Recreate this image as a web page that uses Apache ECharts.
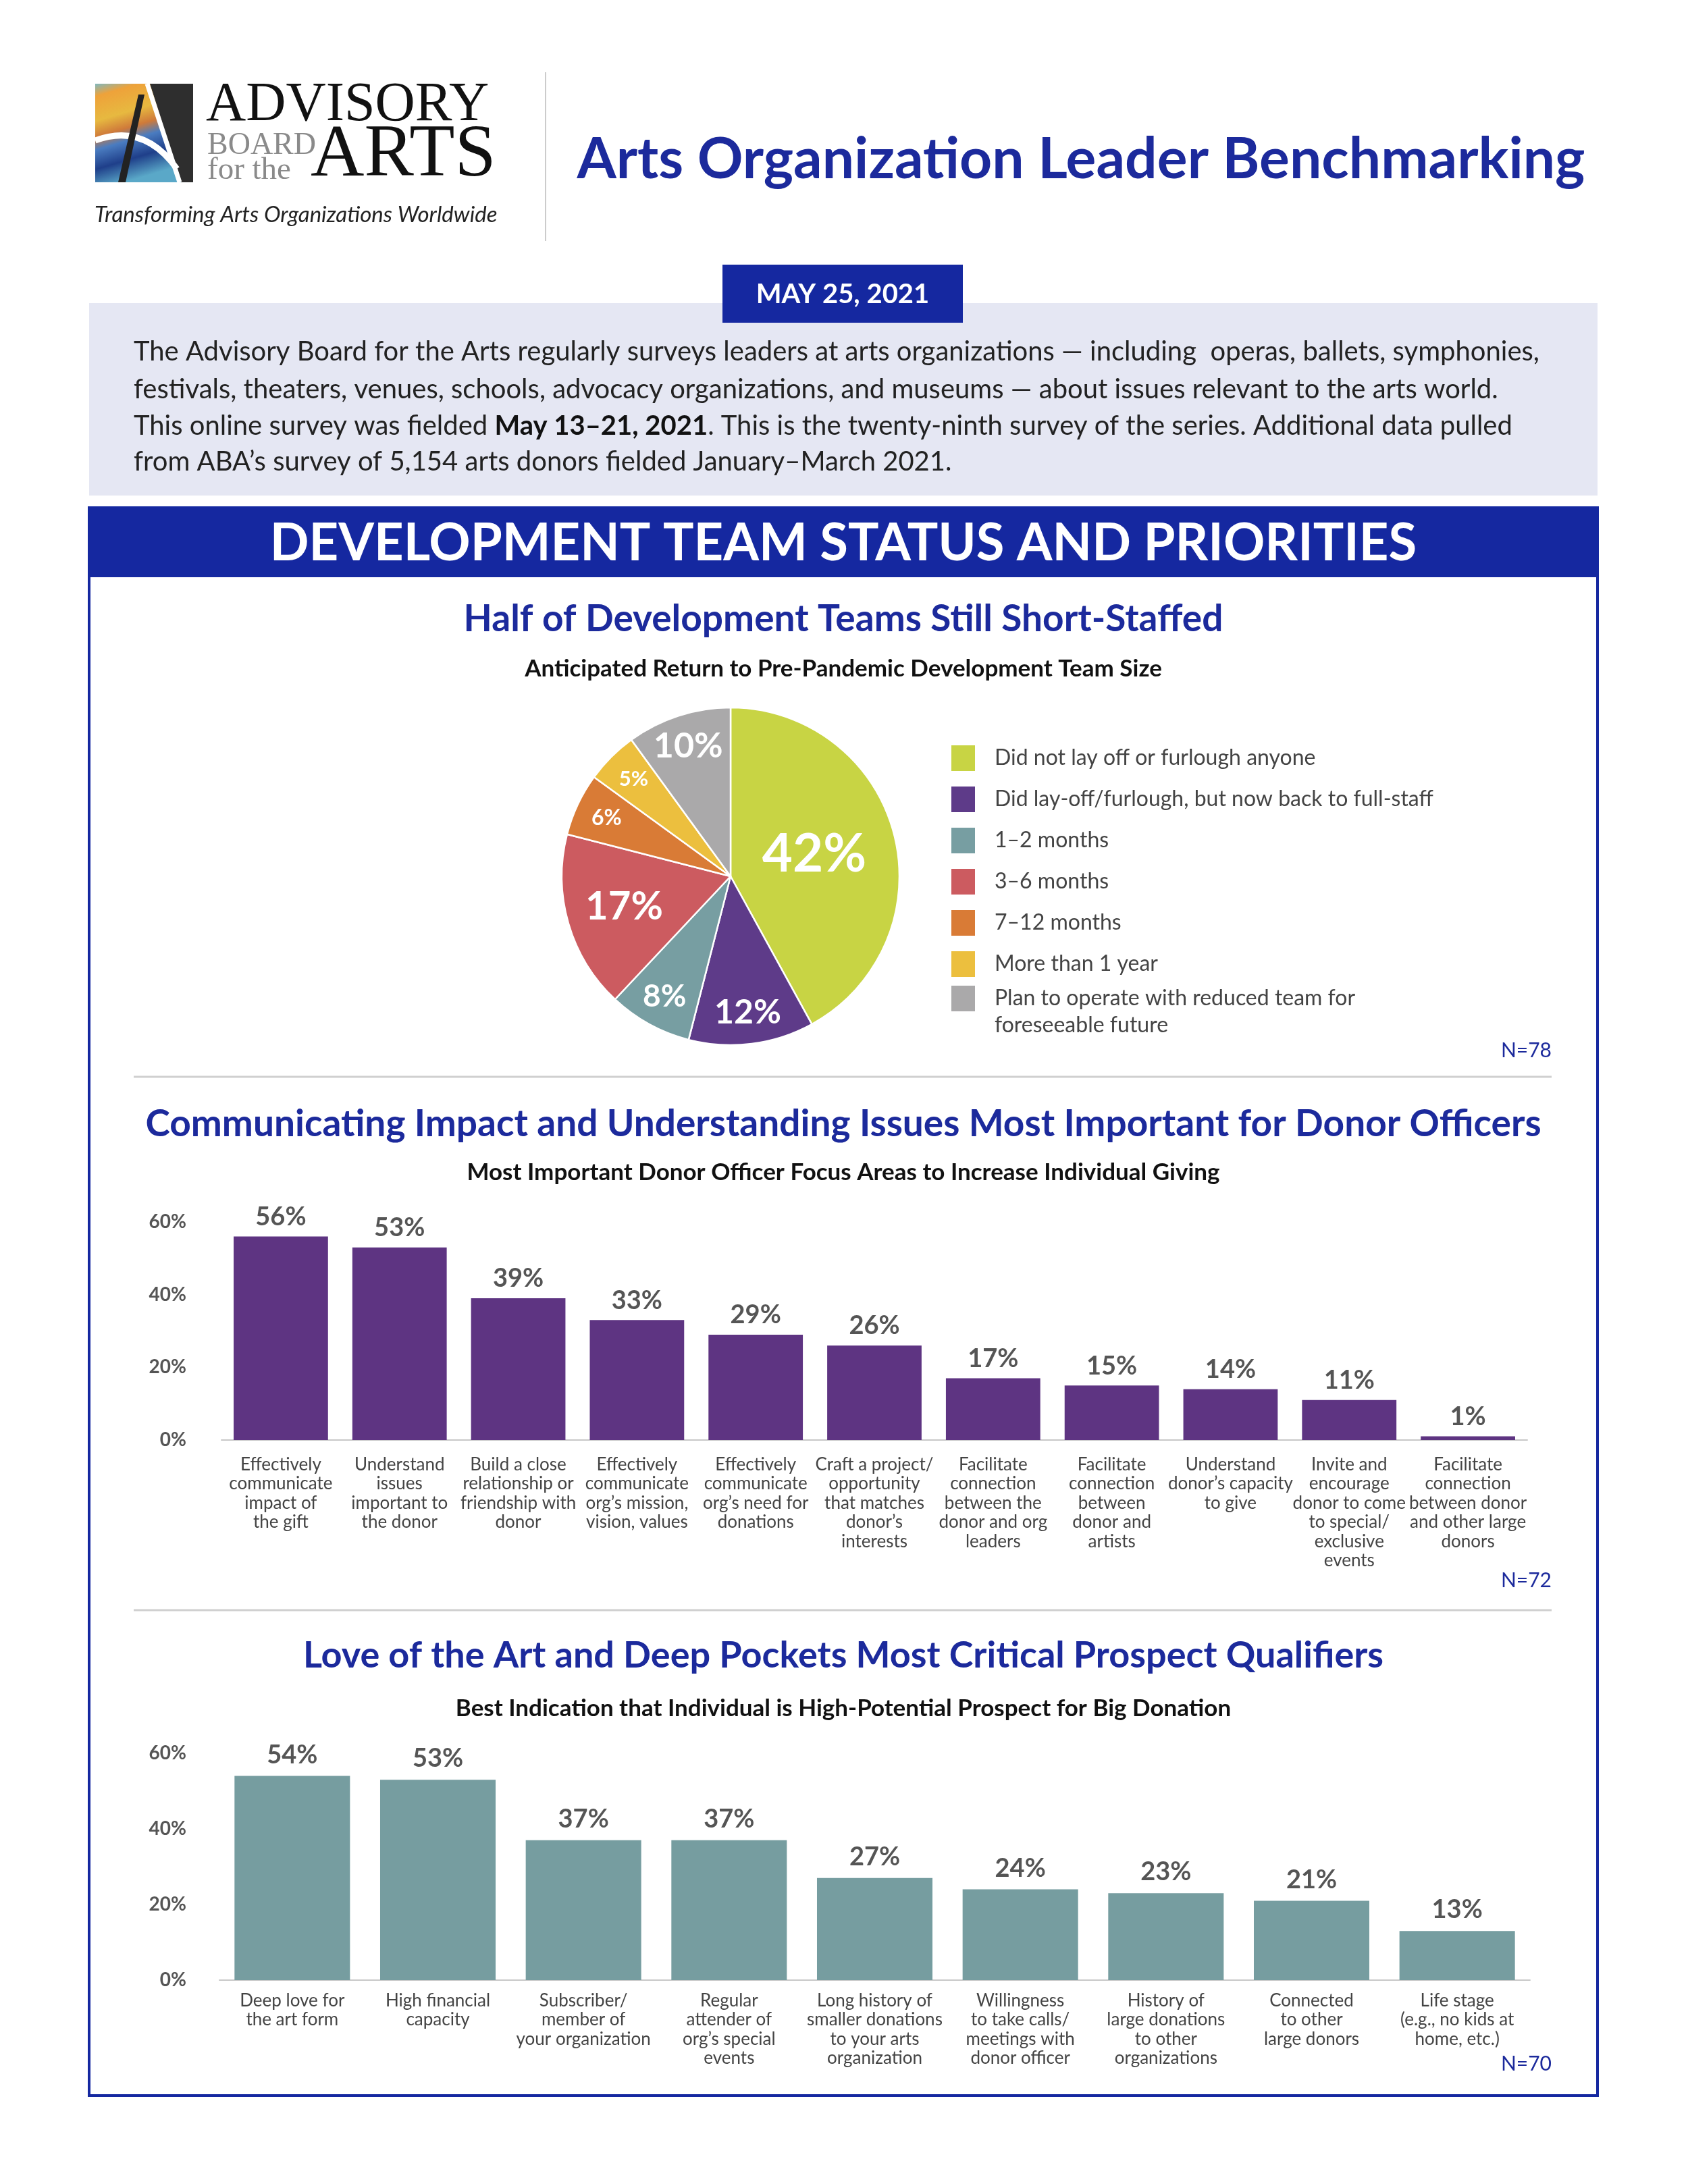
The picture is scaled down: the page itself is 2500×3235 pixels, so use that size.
<!DOCTYPE html>
<html><head><meta charset="utf-8">
<script src="https://cdn.jsdelivr.net/npm/echarts@6/dist/echarts.min.js"></script>
<style>html,body{margin:0;padding:0;background:#fff}#c{width:2500px;height:3235px}</style>
</head><body><div id="c"></div>
<script>
// ---------- DATA ----------
const pieCategories = [
  'Did not lay off or furlough anyone',
  'Did lay-off/furlough, but now back to full-staff',
  '1–2 months',
  '3–6 months',
  '7–12 months',
  'More than 1 year',
  'Plan to operate with reduced team for\nforeseeable future'
];
const pieValues = [42, 12, 8, 17, 6, 5, 10];

const focusCategories = [
  'Effectively\ncommunicate\nimpact of\nthe gift',
  'Understand\nissues\nimportant to\nthe donor',
  'Build a close\nrelationship or\nfriendship with\ndonor',
  'Effectively\ncommunicate\norg’s mission,\nvision, values',
  'Effectively\ncommunicate\norg’s need for\ndonations',
  'Craft a project/\nopportunity\nthat matches\ndonor’s\ninterests',
  'Facilitate\nconnection\nbetween the\ndonor and org\nleaders',
  'Facilitate\nconnection\nbetween\ndonor and\nartists',
  'Understand\ndonor’s capacity\nto give',
  'Invite and\nencourage\ndonor to come\nto special/\nexclusive\nevents',
  'Facilitate\nconnection\nbetween donor\nand other large\ndonors'
];
const focusValues = [56, 53, 39, 33, 29, 26, 17, 15, 14, 11, 1];

const qualifierCategories = [
  'Deep love for\nthe art form',
  'High financial\ncapacity',
  'Subscriber/\nmember of\nyour organization',
  'Regular\nattender of\norg’s special\nevents',
  'Long history of\nsmaller donations\nto your arts\norganization',
  'Willingness\nto take calls/\nmeetings with\ndonor officer',
  'History of\nlarge donations\nto other\norganizations',
  'Connected\nto other\nlarge donors',
  'Life stage\n(e.g., no kids at\nhome, etc.)'
];
const qualifierValues = [54, 53, 37, 37, 27, 24, 23, 21, 13];

// ---------- STYLE ----------
const FONT = 'Lato, "Open Sans", sans-serif';
const SERIF = '"Liberation Serif", "DejaVu Serif", serif';
const BLUE = '#1528a0';
const TITLE_BLUE = '#1c2a9c';
const pieColors = ['#c8d444', '#5e3b89', '#779ea2', '#cc5b60', '#d97b36', '#ecbf3e', '#aaa9aa'];
const pieLabelSizes = [78, 50, 46, 58, 32, 31, 52];
// which overlay ring shows each label: 0 = full radius, 1 = mid ring, 2 = outer ring
const pieLabelRing = [0, 2, 2, 1, 2, 2, 2];

const chart = echarts.init(document.getElementById('c'), null, {renderer: 'canvas'});

function pieData(ring) {
  return pieCategories.map((n, i) => ({
    name: n, value: pieValues[i],
    itemStyle: ring === 0 ? {color: pieColors[i]} : {color: 'rgba(0,0,0,0)', borderWidth: 0},
    label: {show: pieLabelRing[i] === ring, fontSize: pieLabelSizes[i]}
  }));
}
function pieSeries(ring, radius) {
  return {
    type: 'pie', center: [1082, 1298], radius: radius, startAngle: 90, clockwise: true,
    silent: ring !== 0, legendHoverLink: false,
    itemStyle: {borderColor: ring === 0 ? '#fff' : 'rgba(0,0,0,0)', borderWidth: ring === 0 ? 2.5 : 0},
    label: {position: 'inside', color: '#fff', fontWeight: 'bold', fontFamily: FONT,
            formatter: p => p.value + '%'},
    labelLine: {show: false},
    emphasis: {disabled: true},
    data: pieData(ring), z: ring === 0 ? 2 : 3
  };
}

function txt(x, y, text, size, opts) {
  return Object.assign({
    type: 'text', x: x, y: y, silent: true,
    style: Object.assign({text: text, fontSize: size, fontFamily: FONT, fill: '#222',
      align: 'left', verticalAlign: 'middle'}, (opts && opts.style) || {})
  }, (opts && opts.el) || {});
}

const graphics = [
  // logo icon
  {type: 'rect', shape: {x: 141, y: 124, width: 145, height: 146}, silent: true,
    style: {fill: new echarts.graphic.LinearGradient(0, 0, 0.3, 1, [
      {offset: 0, color: '#7fb8c0'}, {offset: 0.12, color: '#eea23a'}, {offset: 0.35, color: '#e7b940'},
      {offset: 0.5, color: '#cf7a3a'}, {offset: 0.62, color: '#4a7cc0'}, {offset: 0.8, color: '#1f3f8a'},
      {offset: 1, color: '#5aa8c8'}])}},
  {type: 'polygon', shape: {points: [[222, 124], [286, 124], [286, 270], [268, 270]]}, silent: true,
    style: {fill: '#2e2e2e'}},
  {type: 'polyline', shape: {points: [[218, 124], [266, 270]]}, silent: true,
    style: {stroke: '#fff', lineWidth: 7}},
  {type: 'bezierCurve', shape: {x1: 141, y1: 208, cpx1: 190, cpy1: 190, cpx2: 230, cpy2: 205, x2: 262, y2: 250}, silent: true,
    style: {stroke: '#fff', lineWidth: 9, fill: null}},
  {type: 'polygon', shape: {points: [[175, 270], [205, 140], [214, 140], [186, 270]]}, silent: true,
    style: {fill: '#222'}},
  txt(305, 156, 'ADVISORY', 82, {style: {fontFamily: SERIF, fill: '#111'}}),
  txt(307, 216, 'BOARD', 46, {style: {fontFamily: SERIF, fill: '#8a8a8a'}}),
  txt(307, 253, 'for the', 47, {style: {fontFamily: SERIF, fill: '#8a8a8a'}}),
  txt(460, 231, 'ARTS', 110, {style: {fontFamily: SERIF, fill: '#111'}}),
  txt(140, 318, 'Transforming Arts Organizations Worldwide', 33, {style: {fontStyle: 'italic', fill: '#222'}}),
  {type: 'line', shape: {x1: 808, y1: 107, x2: 808, y2: 357}, silent: true, style: {stroke: '#cccccc', lineWidth: 2}},
  // main title
  txt(1601, 237, 'Arts Organization Leader Benchmarking', 84, {style: {align: 'center', fill: TITLE_BLUE, fontWeight: 'bold'}}),
  // intro box
  {type: 'rect', shape: {x: 132, y: 449, width: 2234, height: 285}, silent: true, style: {fill: '#e5e7f3'}},
  {type: 'rect', shape: {x: 1070, y: 392, width: 356, height: 86}, silent: true, style: {fill: BLUE}},
  txt(1248, 436, 'MAY 25, 2021', 40, {style: {align: 'center', fill: '#fff', fontWeight: 'bold'}}),
  txt(198, 521, 'The Advisory Board for the Arts regularly surveys leaders at arts organizations — including  operas, ballets, symphonies,', 40),
  txt(198, 577, 'festivals, theaters, venues, schools, advocacy organizations, and museums — about issues relevant to the arts world.', 40),
  {type: 'text', x: 198, y: 631, silent: true, style: {
    text: '{n|This online survey was fielded }{b|May 13–21, 2021}{n|. This is the twenty-ninth survey of the series. Additional data pulled}',
    fontFamily: FONT, fontSize: 40, fill: '#222', verticalAlign: 'middle',
    rich: {n: {fontSize: 40, fontFamily: FONT, fill: '#222'}, b: {fontSize: 40, fontFamily: FONT, fontWeight: 'bold', fill: '#111'}}}},
  txt(198, 684, 'from ABA’s survey of 5,154 arts donors fielded January–March 2021.', 40),
  // section frame
  {type: 'rect', shape: {x: 132, y: 752, width: 2234, height: 2352}, silent: true,
    style: {fill: null, stroke: BLUE, lineWidth: 4}},
  {type: 'rect', shape: {x: 132, y: 752, width: 2234, height: 103}, silent: true, style: {fill: BLUE}},
  txt(1249, 805, 'DEVELOPMENT TEAM STATUS AND PRIORITIES', 76, {style: {align: 'center', fill: '#fff', fontWeight: 'bold'}}),
  // pie titles
  txt(1249, 917, 'Half of Development Teams Still Short-Staffed', 55, {style: {align: 'center', fill: TITLE_BLUE, fontWeight: 'bold'}}),
  txt(1249, 991, 'Anticipated Return to Pre-Pandemic Development Team Size', 35, {style: {align: 'center', fill: '#111', fontWeight: 'bold'}}),
  txt(2298, 1556, 'N=78', 30, {style: {align: 'right', fill: TITLE_BLUE}}),
  {type: 'line', shape: {x1: 198, y1: 1595, x2: 2298, y2: 1595}, silent: true, style: {stroke: '#d0d0d0', lineWidth: 3}},
  // bar 1 titles
  txt(1249, 1665, 'Communicating Impact and Understanding Issues Most Important for Donor Officers', 55, {style: {align: 'center', fill: TITLE_BLUE, fontWeight: 'bold'}}),
  txt(1249, 1737, 'Most Important Donor Officer Focus Areas to Increase Individual Giving', 35, {style: {align: 'center', fill: '#111', fontWeight: 'bold'}}),
  txt(2298, 2341, 'N=72', 30, {style: {align: 'right', fill: TITLE_BLUE}}),
  {type: 'line', shape: {x1: 198, y1: 2385, x2: 2298, y2: 2385}, silent: true, style: {stroke: '#d0d0d0', lineWidth: 3}},
  // bar 2 titles
  txt(1249, 2453, 'Love of the Art and Deep Pockets Most Critical Prospect Qualifiers', 54, {style: {align: 'center', fill: TITLE_BLUE, fontWeight: 'bold'}}),
  txt(1249, 2531, 'Best Indication that Individual is High-Potential Prospect for Big Donation', 35, {style: {align: 'center', fill: '#111', fontWeight: 'bold'}}),
  txt(2298, 3057, 'N=70', 30, {style: {align: 'right', fill: TITLE_BLUE}})
];

const yAxisCommon = {
  type: 'value', min: 0, max: 60, interval: 20,
  axisLine: {show: false}, axisTick: {show: false}, splitLine: {show: false},
  axisLabel: {formatter: '{value}%', color: '#555', fontWeight: 'bold', fontSize: 28, fontFamily: FONT}
};
const xAxisCommon = {
  type: 'category', axisTick: {show: false},
  axisLine: {show: true, lineStyle: {color: '#c8c8c8', width: 2}},
  axisLabel: {interval: 0, color: '#444', fontSize: 26, lineHeight: 28.5, fontFamily: FONT, align: 'center'}
};
const barLabel = {show: true, position: 'top', distance: 10, color: '#555', fontWeight: 'bold',
  fontSize: 38, fontFamily: FONT, formatter: '{c}%'};

const legendCommon = {
  orient: 'vertical', left: 1402, itemWidth: 37, itemHeight: 40, itemGap: 19,
  icon: 'rect', selectedMode: false,
  textStyle: {fontSize: 32, color: '#444', fontFamily: FONT, lineHeight: 40, padding: [0, 0, 0, 23]}
};

const option = {
  backgroundColor: '#fff',
  animation: false,
  textStyle: {fontFamily: FONT},
  graphic: graphics,
  legend: [
    Object.assign({}, legendCommon, {top: 1097, data: pieCategories.slice(0, 6)}),
    // leading blank line keeps the first text line level with the swatch
    Object.assign({}, legendCommon, {top: 1414, formatter: name => ' \n' + name,
      data: pieCategories.slice(6)})
  ],
  grid: [
    {left: 328, top: 1810, width: 1934, height: 323},
    {left: 325, top: 2597, width: 1941, height: 336}
  ],
  xAxis: [
    Object.assign({}, xAxisCommon, {gridIndex: 0, data: focusCategories,
      axisLabel: Object.assign({}, xAxisCommon.axisLabel, {margin: 22})}),
    Object.assign({}, xAxisCommon, {gridIndex: 1, data: qualifierCategories,
      axisLabel: Object.assign({}, xAxisCommon.axisLabel, {margin: 16})})
  ],
  yAxis: [
    Object.assign({}, yAxisCommon, {gridIndex: 0, axisLabel: Object.assign({}, yAxisCommon.axisLabel, {margin: 52})}),
    Object.assign({}, yAxisCommon, {gridIndex: 1, axisLabel: Object.assign({}, yAxisCommon.axisLabel, {margin: 49})})
  ],
  series: [
    pieSeries(0, [0, 250]),
    pieSeries(1, [72, 250]),
    pieSeries(2, [150, 250]),
    {type: 'bar', xAxisIndex: 0, yAxisIndex: 0, data: focusValues, barCategoryGap: '20.5%',
      itemStyle: {color: '#5e3482'}, label: barLabel, silent: true},
    {type: 'bar', xAxisIndex: 1, yAxisIndex: 1, data: qualifierValues, barCategoryGap: '20.7%',
      itemStyle: {color: '#769da0'}, label: Object.assign({}, barLabel, {distance: 12}), silent: true}
  ]
};
chart.setOption(option);
</script></body></html>
